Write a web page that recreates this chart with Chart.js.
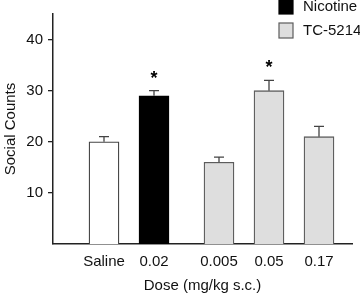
<!DOCTYPE html>
<html>
<head>
<meta charset="utf-8">
<script src="https://cdn.jsdelivr.net/npm/chart.js@4.4.1/dist/chart.umd.min.js"></script>
<style>
  html, body { margin: 0; padding: 0; background: #fff; }
  #wrap { width: 360px; height: 295px; position: relative; }
</style>
</head>
<body>
<div id="wrap"><canvas id="myChart"></canvas></div>
<script>
// data
const doses = ['Saline', '0.02', '0.005', '0.05', '0.17'];
const groups = ['Saline', 'Nicotine', 'TC-5214', 'TC-5214', 'TC-5214'];
const means = [20, 29, 16, 30, 21];
const sems = [1, 1, 1, 2, 2];
const starred = [false, true, false, true, false];
const yTicks = [10, 20, 30, 40];

// look
const FONT = "'Liberation Sans', Arial, sans-serif";
const FS = 15;
const fills = { 'Saline': '#ffffff', 'Nicotine': '#000000', 'TC-5214': '#dedede' };
const borders = { 'Saline': '#444444', 'Nicotine': '#000000', 'TC-5214': '#5c5c5c' };
const gapAfter = 1;     // extra space after the nicotine bar
const gapSize = 0.3;

const slot = i => i + (i > gapAfter ? gapSize : 0);

// one dataset per group so the legend reads from them
const groupNames = [...new Set(groups)];
const datasets = groupNames.map(g => ({
  label: g,
  data: doses.map((d, i) => groups[i] === g ? { x: slot(i), y: means[i] } : null).filter(p => p),
  backgroundColor: fills[g],
  borderColor: borders[g],
  borderWidth: 1.3,
  borderSkipped: 'bottom',
  barThickness: 30,
  grouped: false,
  inLegend: g !== 'Saline'
}));

// error bars + stars
const errorBars = {
  id: 'errorBars',
  afterDatasetsDraw(chart) {
    const ctx = chart.ctx;
    const y = chart.scales.y, x = chart.scales.x;
    ctx.save();
    means.forEach((m, i) => {
      const px = x.getPixelForValue(slot(i));
      const top = y.getPixelForValue(m);
      const end = y.getPixelForValue(m + sems[i]);
      ctx.strokeStyle = '#444';
      ctx.lineWidth = 1.3;
      ctx.beginPath();
      ctx.moveTo(px, top);
      ctx.lineTo(px, end);
      ctx.moveTo(px - 5, end);
      ctx.lineTo(px + 5, end);
      ctx.stroke();
      if (starred[i]) {
        ctx.fillStyle = '#000';
        ctx.font = 'bold 18px ' + FONT;
        ctx.textAlign = 'center';
        ctx.textBaseline = 'alphabetic';
        ctx.fillText('*', px, end - 7);
      }
    });
    ctx.restore();
  }
};

// legend in the top right corner
const cornerLegend = {
  id: 'cornerLegend',
  afterDraw(chart) {
    const ctx = chart.ctx;
    let row = 0;
    ctx.save();
    chart.data.datasets.forEach(ds => {
      if (!ds.inLegend) return;
      const top = -1 + row * 24;
      ctx.fillStyle = ds.backgroundColor;
      ctx.fillRect(279, top, 14, 15);
      ctx.strokeStyle = ds.borderColor;
      ctx.lineWidth = 1.2;
      ctx.strokeRect(279, top, 14, 15);
      ctx.fillStyle = '#111';
      ctx.font = FS + 'px ' + FONT;
      ctx.textAlign = 'left';
      ctx.textBaseline = 'middle';
      ctx.fillText(ds.label, 303, top + 8);
      row++;
    });
    ctx.restore();
  }
};

new Chart(document.getElementById('myChart'), {
  type: 'bar',
  data: { datasets: datasets },
  options: {
    responsive: true,
    maintainAspectRatio: false,
    animation: false,
    layout: { padding: { top: 5, right: 8, left: 0, bottom: 0 } },
    plugins: {
      legend: { display: false },
      tooltip: { enabled: false }
    },
    scales: {
      x: {
        type: 'linear',
        offset: false,
        min: -1.02,
        max: 4.96,
        afterBuildTicks: s => { s.ticks = doses.map((d, i) => ({ value: slot(i) })); },
        afterFit: s => { s.height = 51; },
        ticks: {
          autoSkip: false,
          maxRotation: 0,
          padding: 9,
          color: '#111',
          font: { family: FONT, size: FS },
          callback: (v, i) => doses[i]
        },
        grid: { display: false, drawTicks: false },
        border: { display: true, color: '#222', width: 1.5 },
        title: {
          display: true,
          text: 'Dose (mg/kg s.c.)',
          color: '#111',
          font: { family: FONT, size: FS },
          padding: { top: 0, bottom: 0 }
        }
      },
      y: {
        min: 0,
        max: 45,
        afterBuildTicks: s => { s.ticks = yTicks.map(v => ({ value: v })); },
        afterFit: s => { s.width = 53; },
        ticks: {
          padding: 5,
          color: '#111',
          font: { family: FONT, size: FS }
        },
        grid: { drawOnChartArea: false, drawTicks: true, tickLength: 5, color: '#222', lineWidth: 1.3 },
        border: { display: true, color: '#222', width: 1.5 },
        title: {
          display: true,
          text: 'Social Counts',
          color: '#111',
          font: { family: FONT, size: FS },
          padding: { top: 2, bottom: 0 }
        }
      }
    }
  },
  plugins: [errorBars, cornerLegend]
});
</script>
</body>
</html>
